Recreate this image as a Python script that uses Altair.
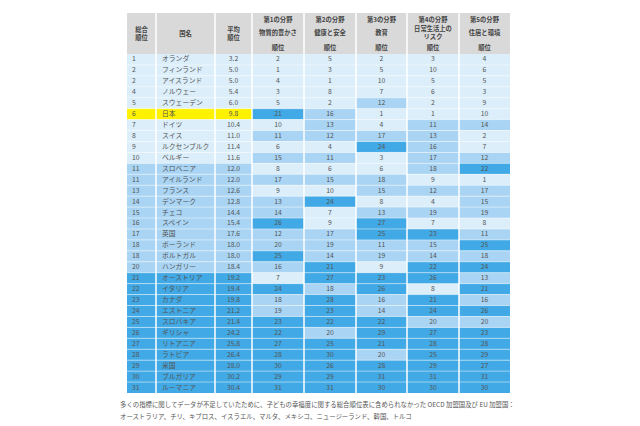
import altair as alt
import pandas as pd

# ---------------- data ----------------
overall = [1, 2, 2, 4, 5, 6, 7, 8, 9, 10, 11, 11, 13, 14, 15, 16, 17, 18, 18, 20,
           21, 22, 23, 24, 25, 26, 27, 28, 29, 30, 31]
countries = ["オランダ", "フィンランド", "アイスランド", "ノルウェー", "スウェーデン", "日本",
             "ドイツ", "スイス", "ルクセンブルク", "ベルギー", "スロベニア", "アイルランド",
             "フランス", "デンマーク", "チェコ", "スペイン", "英国", "ポーランド", "ポルトガル",
             "ハンガリー", "オーストリア", "イタリア", "カナダ", "エストニア", "スロバキア",
             "ギリシャ", "リトアニア", "ラトビア", "米国", "ブルガリア", "ルーマニア"]
avg_rank = ["3.2", "5.0", "5.0", "5.4", "6.0", "9.8", "10.4", "11.0", "11.4", "11.6",
            "12.0", "12.0", "12.6", "12.8", "14.4", "15.4", "17.6", "18.0", "18.0", "18.4",
            "19.2", "19.4", "19.8", "21.2", "21.4", "24.2", "25.8", "26.4", "28.0", "30.2", "30.4"]
material = [2, 1, 4, 3, 5, 21, 10, 11, 6, 15, 8, 17, 9, 13, 14, 26, 12, 20, 25, 16,
            7, 24, 18, 19, 23, 22, 27, 28, 30, 29, 31]
health = [5, 3, 1, 8, 2, 16, 13, 12, 4, 11, 6, 15, 10, 24, 7, 9, 17, 19, 14, 21,
          27, 18, 28, 23, 22, 20, 25, 30, 26, 29, 31]
education = [2, 5, 10, 7, 12, 1, 4, 17, 24, 3, 6, 18, 15, 8, 13, 27, 25, 11, 19, 9,
             23, 26, 16, 14, 22, 29, 21, 20, 28, 31, 30]
risk = [3, 10, 5, 6, 2, 1, 11, 13, 16, 17, 18, 9, 12, 4, 19, 7, 23, 15, 14, 22,
        26, 8, 21, 24, 20, 27, 28, 25, 29, 31, 30]
housing = [4, 6, 5, 3, 9, 10, 14, 2, 7, 12, 22, 1, 17, 15, 19, 8, 11, 25, 18, 24,
           13, 21, 16, 26, 20, 23, 28, 29, 27, 31, 30]
highlight_country = "日本"

header_main = [["総合", "順位"], ["国名"], ["平均", "順位"]]
header_fields = ["第1の分野", "第2の分野", "第3の分野", "第4の分野", "第5の分野"]
header_sub = [["物質的豊かさ"], ["健康と安全"], ["教育"], ["日常生活上の", "リスク"], ["住居と環境"]]
header_rank = "順位"
footnote = ["多くの指標に関してデータが不足していたために、子どもの幸福度に関する総合順位表に含められなかった OECD 加盟国及び EU 加盟国：",
            "オーストラリア、チリ、キプロス、イスラエル、マルタ、メキシコ、ニュージーランド、韓国、トルコ"]

# ---------------- layout ----------------
COL_EDGES = [127, 156, 215, 252, 304, 356, 407, 459, 510]
BODY_TOP = 54.0
ROW_H = 10.935
HEADER_TOP = 13.0
FONT = "Noto Sans CJK JP"
COLORS = {"light": "#dbeefa", "medium": "#a9d4f3", "dark": "#41a9e5",
          "japan": "#fff200", "header": "#d9d9d9"}


def ry(py):
    """page pixel y -> row units"""
    return (py - BODY_TOP) / ROW_H


def tier(r):
    return "light" if r <= 10 else ("medium" if r <= 20 else "dark")


n = len(countries)
rank_cols = [material, health, education, risk, housing]
cells = []
for i in range(n):
    base = "japan" if countries[i] == highlight_country else tier(overall[i])
    vals = [str(overall[i]), countries[i], avg_rank[i]] + [str(c[i]) for c in rank_cols]
    fills = [base, base, base] + [tier(c[i]) for c in rank_cols]
    for j in range(8):
        x0, x1 = COL_EDGES[j], COL_EDGES[j + 1]
        if j == 0:
            tx, al = x0 + 5, "left"
        elif j == 1:
            tx, al = x0 + 6, "left"
        else:
            tx, al = (x0 + x1) / 2, "center"
        cells.append(dict(x0=x0, x1=x1, y0=i, y1=i + 1, yc=i + 0.5, tx=tx,
                          align=al, text=vals[j], fill=fills[j]))
cells = pd.DataFrame(cells)


def lines_at(center_py, lines, gap=8.6):
    start = center_py - gap * (len(lines) - 1) / 2
    return [(start + k * gap, t) for k, t in enumerate(lines)]


hdr = []
for j in range(3):
    cx = (COL_EDGES[j] + COL_EDGES[j + 1]) / 2
    for py, t in lines_at(34, header_main[j]):
        hdr.append(dict(tx=cx, ty=ry(py), text=t))
for k in range(5):
    cx = (COL_EDGES[k + 3] + COL_EDGES[k + 4]) / 2
    hdr.append(dict(tx=cx, ty=ry(19.5), text=header_fields[k]))
    for py, t in lines_at(33.2, header_sub[k], gap=8.2):
        hdr.append(dict(tx=cx, ty=ry(py), text=t))
    hdr.append(dict(tx=cx, ty=ry(47.5), text=header_rank))
hdr = pd.DataFrame(hdr)

head_rect = pd.DataFrame([dict(x0=COL_EDGES[0], x1=COL_EDGES[-1], y0=ry(HEADER_TOP), y1=0)])
vlines = pd.DataFrame([dict(x=e, y0=ry(HEADER_TOP), y1=n) for e in COL_EDGES[1:-1]])
hlines = pd.DataFrame([dict(x0=COL_EDGES[0], x1=COL_EDGES[-1], y=float(i)) for i in range(1, n)])
foot = pd.DataFrame([dict(tx=120, ty=ry(404.5), text=footnote[0]),
                     dict(tx=120, ty=ry(416.5), text=footnote[1])])

W, H = 624, 418
xs = alt.Scale(domain=[8, 8 + W], range=[0, W])
ys = alt.Scale(domain=[ry(8), ry(8 + H)], range=[0, H])
X = lambda f: alt.X(f, type="quantitative", scale=xs, axis=None)
Y = lambda f: alt.Y(f, type="quantitative", scale=ys, axis=None)

header_bg = alt.Chart(head_rect).mark_rect(color=COLORS["header"]).encode(
    x=X("x0"), x2="x1", y=Y("y0"), y2="y1")

cell_rect = alt.Chart(cells).mark_rect().encode(
    x=X("x0"), x2="x1", y=Y("y0"), y2="y1",
    color=alt.Color("fill:N", legend=None,
                    scale=alt.Scale(domain=["light", "medium", "dark", "japan"],
                                    range=[COLORS["light"], COLORS["medium"],
                                           COLORS["dark"], COLORS["japan"]])))

hl = alt.Chart(hlines).mark_rule(color="white", strokeWidth=0.8, opacity=0.6).encode(
    x=X("x0"), x2="x1", y=Y("y"))
vl = alt.Chart(vlines).mark_rule(color="white", strokeWidth=1.5).encode(
    x=X("x"), y=Y("y0"), y2="y1")

txt_left = alt.Chart(cells[cells["align"] == "left"]).mark_text(
    align="left", baseline="middle", font=FONT, fontSize=6.8, color="#555555").encode(
    x=X("tx"), y=Y("yc"), text="text:N")
txt_center = alt.Chart(cells[cells["align"] == "center"]).mark_text(
    align="center", baseline="middle", font=FONT, fontSize=6.8, color="#555555").encode(
    x=X("tx"), y=Y("yc"), text="text:N")

hdr_txt = alt.Chart(hdr).mark_text(
    align="center", baseline="middle", font=FONT, fontSize=6.3, fontWeight="bold",
    color="#444444").encode(x=X("tx"), y=Y("ty"), text="text:N")

foot_txt = alt.Chart(foot).mark_text(
    align="left", baseline="middle", font=FONT, fontSize=6.4, color="#555555").encode(
    x=X("tx"), y=Y("ty"), text="text:N")

chart = alt.layer(header_bg, cell_rect, hl, vl, txt_left, txt_center, hdr_txt, foot_txt).properties(
    width=W, height=H, autosize=alt.AutoSizeParams(type="none"), padding=0,
    background="white").configure_view(stroke=None)

chart.save("out.html", embed_options={"renderer": "svg", "actions": False})
